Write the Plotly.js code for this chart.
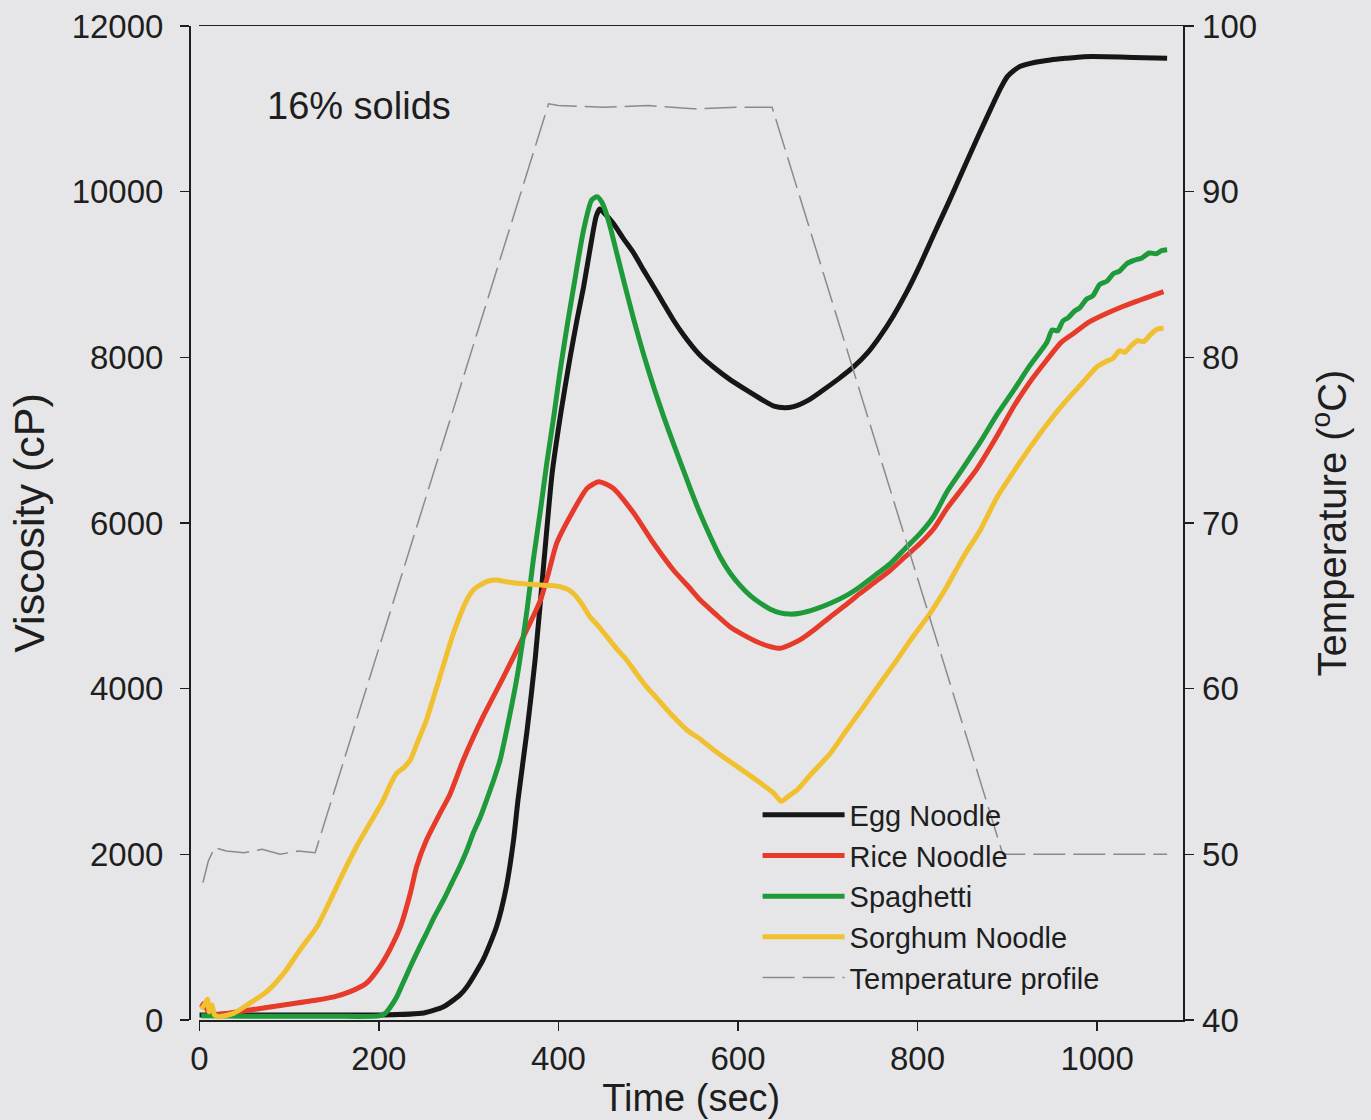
<!DOCTYPE html>
<html>
<head>
<meta charset="utf-8">
<script src="https://cdn.plot.ly/plotly-3.0.1.min.js"></script>
<style>html,body{margin:0;padding:0;background:#e6e6e8;}</style>
</head>
<body>
<div id="chart" style="width:1371px;height:1120px;"></div>
<script>
// Egg Noodle
const eggT = [0,50,100,150,200,250,272,290,298,316,331,342,350,355,365,374,384,393,403,413,421,428,437,442,446,452,461,472,484,495,506,517,528,540,550,560,573,590,610,625,640,652,662,678,695,712,729,744,758,773,788,803,818,835,851,868,885,893,900,907,914,930,948,965,985,1010,1040,1078];
const eggV = [60,60,60,60,60,85,160,300,400,725,1126,1610,2170,2660,3490,4346,5553,6600,7350,8000,8470,8850,9420,9700,9790,9730,9618,9440,9256,9050,8853,8650,8451,8260,8120,8000,7880,7740,7600,7500,7410,7390,7404,7480,7606,7740,7887,8050,8250,8500,8790,9120,9480,9880,10270,10680,11080,11260,11389,11460,11510,11560,11590,11610,11630,11630,11620,11610];
// Rice Noodle
const riceT = [2,5,10,18,30,56,94,131,150,168,186,201,212,224,235,242,253,268,279,294,316,339,361,380,389,398,417,432,445,461,484,506,528,545,558,575,591,606,621,635,647,658,669,686,703,720,736,753,770,786,803,818,833,850,866,888,907,925,944,960,974,990,1011,1030,1048,1060,1074];
const riceV = [150,200,100,70,80,120,181,241,280,342,443,643,845,1126,1530,1851,2173,2495,2720,3139,3662,4145,4628,5070,5400,5755,6157,6419,6499,6419,6117,5755,5433,5230,5070,4900,4748,4650,4567,4510,4487,4530,4588,4720,4869,5010,5151,5290,5433,5590,5755,5930,6180,6420,6650,7040,7404,7700,7968,8180,8290,8420,8532,8620,8692,8740,8793];
// Spaghetti
const spagT = [2,50,100,150,200,207,213,220,227,235,244,253,262,272,281,290,298,305,313,320,328,335,345,354,365,372,380,387,395,402,410,417,428,437,443,448,452,458,465,474,484,495,506,517,528,536,546,558,569,580,591,602,614,625,636,647,658,669,686,703,720,736,753,770,786,803,818,833,848,862,870,888,907,925,944,950,956,962,968,975,981,988,995,1003,1011,1018,1025,1033,1041,1050,1058,1066,1072,1078];
const spagV = [50,45,45,45,50,80,160,281,450,643,850,1046,1250,1449,1650,1851,2050,2254,2450,2656,2900,3139,3640,4145,4950,5553,6157,6721,7300,7847,8400,8853,9538,9900,9940,9880,9779,9560,9256,8870,8451,8030,7646,7290,6960,6730,6440,6110,5840,5593,5400,5250,5120,5031,4960,4915,4900,4910,4960,5031,5120,5231,5370,5513,5690,5875,6080,6380,6620,6850,6980,7300,7600,7900,8180,8330,8320,8440,8480,8560,8600,8700,8740,8880,8920,9010,9040,9130,9170,9200,9260,9250,9290,9300];
// Sorghum Noodle
const sorgT = [2,6,9,11,14,17,22,38,56,75,94,112,131,146,160,175,190,205,213,220,228,235,244,253,268,283,298,306,313,322,331,342,354,366,380,391,402,412,420,428,435,445,454,465,476,487,498,510,521,532,543,558,573,591,610,625,640,648,656,666,684,703,721,740,758,777,795,814,833,851,870,888,907,926,944,963,981,1000,1010,1018,1025,1031,1037,1045,1052,1060,1067,1074];
const sorgV = [130,190,250,100,180,60,40,80,201,342,563,845,1126,1449,1771,2092,2375,2656,2850,2980,3050,3140,3380,3622,4145,4668,5070,5200,5252,5300,5312,5290,5272,5262,5252,5245,5231,5190,5111,4990,4869,4750,4628,4480,4346,4180,4024,3880,3743,3620,3501,3390,3260,3120,2978,2860,2737,2640,2700,2777,3000,3220,3500,3783,4060,4346,4630,4910,5240,5590,5916,6300,6620,6922,7190,7445,7660,7887,7950,7990,8080,8060,8129,8200,8190,8280,8340,8350];
// Temperature profile (right axis, °C)
const tempT = [4,10,17,30,50,70,90,110,129,389,400,450,500,550,600,638,895,950,1000,1078];
const tempV = [48.3,49.6,50.4,50.2,50.1,50.3,50.0,50.2,50.1,95.3,95.2,95.1,95.2,95.0,95.1,95.1,50.0,50.0,50.0,50.0];

const FONT = 'Liberation Sans, Arial, Helvetica, sans-serif';
const ink = '#1e1e1e';

const traces = [
  {x: eggT, y: eggV, name: 'Egg Noodle', mode: 'lines', line: {color: '#161616', width: 5, shape: 'spline', smoothing: 0.6}},
  {x: riceT, y: riceV, name: 'Rice Noodle', mode: 'lines', line: {color: '#e63b2a', width: 5, shape: 'spline', smoothing: 0.6}},
  {x: spagT, y: spagV, name: 'Spaghetti', mode: 'lines', line: {color: '#1f9a3a', width: 5, shape: 'spline', smoothing: 0.6}},
  {x: sorgT, y: sorgV, name: 'Sorghum Noodle', mode: 'lines', line: {color: '#f0c030', width: 5, shape: 'spline', smoothing: 0.6}},
  {x: tempT, y: tempV, name: 'Temperature profile', yaxis: 'y2', mode: 'lines', line: {color: '#8a8a8a', width: 1.5, dash: '32px,8px'}}
];

const axisCommon = {
  showline: true, linecolor: ink, linewidth: 1.5,
  ticks: 'outside', ticklen: 9, tickwidth: 1.5, tickcolor: ink,
  showgrid: false, zeroline: false,
  tickfont: {family: FONT, size: 33, color: ink}
};

const layout = {
  width: 1371, height: 1120,
  margin: {l: 189, r: 188, t: 26, b: 100},
  paper_bgcolor: '#e6e6e8', plot_bgcolor: 'rgba(0,0,0,0)',
  font: {family: FONT, color: ink},
  showlegend: true,
  legend: {x: 0.572, xanchor: 'left', y: 0.232, yanchor: 'top', bgcolor: 'rgba(0,0,0,0)',
           font: {family: FONT, size: 29, color: ink}, itemwidth: 82, tracegroupgap: 0},
  xaxis: Object.assign({}, axisCommon, {
    domain: [0.0104, 1], range: [0, 1095.7], tickvals: [0,200,400,600,800,1000],
    mirror: true, ticklabelstandoff: 0,
    title: {text: 'Time (sec)', font: {family: FONT, size: 38, color: ink}, standoff: 2}
  }),
  yaxis: Object.assign({}, axisCommon, {
    range: [0, 12000], dtick: 2000, tickformat: 'd', anchor: 'free', position: 0,
    ticklabelstandoff: 10,
    title: {text: 'Viscosity (cP)', font: {family: FONT, size: 43, color: ink}, standoff: 12}
  }),
  yaxis2: Object.assign({}, axisCommon, {
    range: [40, 100], dtick: 10, overlaying: 'y', side: 'right', anchor: 'x',
    ticklabelstandoff: 2,
    title: {text: 'Temperature (<sup>o</sup>C)', font: {family: FONT, size: 40, color: ink}, standoff: 62}
  }),
  annotations: [{
    text: '16% solids', xref: 'paper', yref: 'paper', x: 0.0765, y: 0.92,
    xanchor: 'left', yanchor: 'middle', showarrow: false,
    font: {family: FONT, size: 38, color: ink}
  }]
};

Plotly.newPlot('chart', traces, layout, {displayModeBar: false, staticPlot: true});
</script>
</body>
</html>
